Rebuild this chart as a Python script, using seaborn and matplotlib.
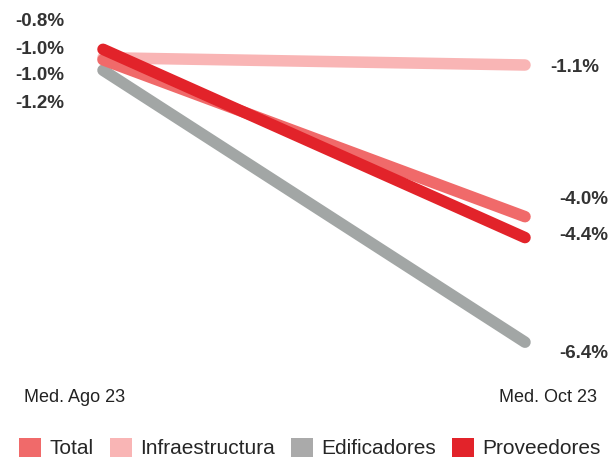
import numpy as np
import pandas as pd
import seaborn as sns
import matplotlib.pyplot as plt
from matplotlib.patches import Patch

# datos
periodos = ['Med. Ago 23', 'Med. Oct 23']
series = ['Total', 'Infraestructura', 'Edificadores', 'Proveedores']
ago = [-1.0, -0.96, -1.2, -0.8]
oct_ = [-4.0, -1.1, -6.4, -4.4]
colores = ['#F06A6A', '#F9B5B5', '#A2A6A5', '#E2232A']

df = pd.DataFrame({
    'serie': series * 2,
    'periodo': [periodos[0]] * 4 + [periodos[1]] * 4,
    'valor': ago + oct_,
})
df['x'] = df['periodo'].map({p: i for i, p in enumerate(periodos)})

sns.set_style('white')
plt.rcParams['font.family'] = ['Liberation Sans', 'DejaVu Sans']

fig = plt.figure(figsize=(6.1, 4.59), dpi=100, facecolor='white')
ax = fig.add_axes([20/610, 1 - 370/459, 570/610, 370/459])

orden = ['Infraestructura', 'Edificadores', 'Total', 'Proveedores']
sns.lineplot(data=df, x='x', y='valor', hue='serie', hue_order=orden,
             palette=dict(zip(series, colores)), linewidth=8.3,
             solid_capstyle='round', legend=False, ax=ax)

ax.set_xlim(-83/422, 1 + 65/422)
ax.set_ylim(-1.1 - 305/52.3, -1.1 + 65/52.3)
ax.axis('off')

# etiquetas del eje x
for p, xf in zip(periodos, [75/610, 548/610]):
    fig.text(xf, 1 - 398/459, p, ha='center', va='center', fontsize=13,
             color='#222222')

# etiquetas de valores (izquierda apiladas)
izq = sorted(ago, reverse=True)
for i, v in enumerate(izq):
    ax.annotate(f'{v:.1f}%', xy=(0, v), xytext=(64, 459 - 22 - 27*i),
                textcoords='figure pixels', ha='right', va='center',
                fontsize=13.5, fontweight='bold', color='#333333')

# derecha
der_x = [559, 550, 559, 559]
der_y = [199, 67, 354, 235]
for v, px, py in zip(oct_, der_x, der_y):
    ax.annotate(f'{v:.1f}%', xy=(1, v), xytext=(px, 459 - py),
                textcoords='figure pixels', ha='left', va='center',
                fontsize=13.5, fontweight='bold', color='#333333')

handles = [Patch(facecolor=c, edgecolor='none') for c in colores]
handles[2] = Patch(facecolor='#AAAAAA', edgecolor='none')
fig.legend(handles, series, loc='center', bbox_to_anchor=(310/610, 11/459),
           ncol=4, frameon=False, fontsize=15, handlelength=1.05,
           handleheight=1.05, handletextpad=0.42, columnspacing=0.75,
           borderpad=0, borderaxespad=0)

plt.savefig('out.png', dpi=100, facecolor='white')
plt.close(fig)
